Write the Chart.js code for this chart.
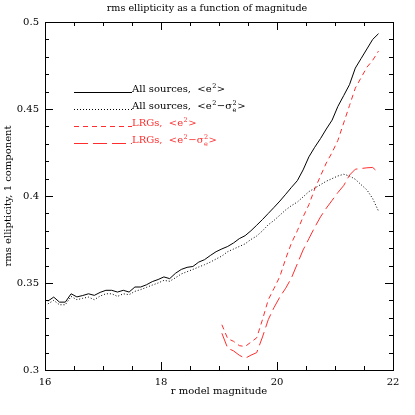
<!DOCTYPE html>
<html>
<head>
<meta charset="utf-8">
<script src="https://cdn.jsdelivr.net/npm/chart.js@4"></script>
<style>
  body { margin: 0; background: #fff; }
</style>
</head>
<body>
<canvas id="myChart" width="415" height="415"></canvas>
<script>
// magnitude bins (bin centres)
let mags = [16.05, 16.15, 16.25, 16.35, 16.45, 16.55, 16.65, 16.75, 16.85, 16.95,
            17.05, 17.15, 17.25, 17.35, 17.45, 17.55, 17.65, 17.75, 17.85, 17.95,
            18.05, 18.15, 18.25, 18.35, 18.45, 18.55, 18.65, 18.75, 18.85, 18.95,
            19.05, 19.15, 19.25, 19.35, 19.45, 19.55, 19.65, 19.75, 19.85, 19.95,
            20.05, 20.15, 20.25, 20.35, 20.45, 20.55, 20.65, 20.75, 20.85, 20.95,
            21.05, 21.15, 21.25, 21.35, 21.45, 21.55, 21.65, 21.75];

// all sources, <e^2>
let allE2 = [0.3396, 0.3419, 0.3390, 0.3390, 0.3438, 0.3420, 0.3428, 0.3438, 0.3429, 0.3446,
             0.3458, 0.3458, 0.3448, 0.3458, 0.3448, 0.3477, 0.3477, 0.3490, 0.3508, 0.3520,
             0.3535, 0.3525, 0.3556, 0.3578, 0.3590, 0.3595, 0.3620, 0.3634, 0.3658, 0.3680,
             0.3696, 0.3710, 0.3730, 0.3755, 0.3772, 0.3800, 0.3832, 0.3865, 0.3900, 0.3935,
             0.3971, 0.4010, 0.4050, 0.4088, 0.4150, 0.4225, 0.4280, 0.4330, 0.4385, 0.4436,
             0.4515, 0.4577, 0.4640, 0.4735, 0.4790, 0.4845, 0.4900, 0.4933];

// all sources, <e^2 - sigma_e^2>
let allE2corr = [0.3380, 0.3400, 0.3375, 0.3375, 0.3423, 0.3404, 0.3412, 0.3419, 0.3404, 0.3425,
                 0.3438, 0.3438, 0.3423, 0.3438, 0.3433, 0.3452, 0.3462, 0.3475, 0.3488, 0.3500,
                 0.3515, 0.3510, 0.3530, 0.3552, 0.3565, 0.3578, 0.3592, 0.3605, 0.3620, 0.3638,
                 0.3655, 0.3680, 0.3695, 0.3710, 0.3725, 0.3750, 0.3770, 0.3800, 0.3835, 0.3860,
                 0.3890, 0.3920, 0.3945, 0.3965, 0.3995, 0.4025, 0.4045, 0.4065, 0.4085, 0.4100,
                 0.4115, 0.4125, 0.4115, 0.4096, 0.4065, 0.4035, 0.3985, 0.3913];

// LRG bins start at 19.05
let lrgMags = [19.05, 19.15, 19.25, 19.35, 19.45, 19.55, 19.65, 19.75, 19.85, 19.95,
               20.05, 20.15, 20.25, 20.35, 20.45, 20.55, 20.65, 20.75, 20.85, 20.95,
               21.05, 21.15, 21.25, 21.35, 21.45, 21.55, 21.65, 21.75];

let lrgE2 = [0.3260, 0.3180, 0.3165, 0.3140, 0.3135, 0.3160, 0.3185, 0.3290, 0.3404, 0.3470,
             0.3538, 0.3640, 0.3730, 0.3800, 0.3880, 0.3950, 0.4040, 0.4115, 0.4190, 0.4250,
             0.4320, 0.4420, 0.4520, 0.4620, 0.4680, 0.4740, 0.4780, 0.4833];

let lrgE2corr = [0.3211, 0.3125, 0.3110, 0.3085, 0.3067, 0.3085, 0.3100, 0.3190, 0.3290, 0.3360,
                 0.3420, 0.3470, 0.3530, 0.3610, 0.3690, 0.3755, 0.3820, 0.3880, 0.3930, 0.3975,
                 0.4020, 0.4060, 0.4120, 0.4154, 0.4158, 0.4162, 0.4164, 0.4134];

let red = 'rgb(255, 45, 45)';
let serif = '"DejaVu Serif", serif';

function pts(xs, ys) {
    return xs.map(function(x, i) { return { x: x, y: ys[i] }; });
}

// draw text with super/subscripts; parts: [text, kind]
function drawMath(ctx, parts, x, y, size) {
    parts.forEach(function(p) {
        let t = p[0], kind = p[1];
        if (kind === 'n') {
            ctx.font = size + 'px ' + serif;
            ctx.fillText(t, x, y);
            x += ctx.measureText(t).width;
        } else if (kind === 'sup') {
            ctx.font = (size * 0.65) + 'px ' + serif;
            ctx.fillText(t, x + 0.5, y - size * 0.42);
            x += ctx.measureText(t).width + 1;
        } else if (kind === 'supsub') {
            ctx.font = (size * 0.65) + 'px ' + serif;
            ctx.fillText(t[0], x + 0.5, y - size * 0.42);
            ctx.fillText(t[1], x + 0.5, y + size * 0.3);
            x += Math.max(ctx.measureText(t[0]).width, ctx.measureText(t[1]).width) + 1;
        }
    });
}

let legendRows = [
    { dash: [], color: '#000', parts: [['All sources,  <e', 'n'], ['2', 'sup'], ['>', 'n']] },
    { dash: [1, 2], color: '#000', parts: [['All sources,  <e', 'n'], ['2', 'sup'], ['\u2212\u03c3', 'n'], [['2', 'e'], 'supsub'], ['>', 'n']] },
    { dash: [5, 4], color: red, parts: [['LRGs,  <e', 'n'], ['2', 'sup'], ['>', 'n']] },
    { dash: [14, 5], color: red, parts: [['LRGs,  <e', 'n'], ['2', 'sup'], ['\u2212\u03c3', 'n'], [['2', 'e'], 'supsub'], ['>', 'n']] }
];

let decor = {
    id: 'decor',
    afterDraw: function(chart) {
        let ctx = chart.ctx;
        let xs = chart.scales.x, ys = chart.scales.y;
        let a = chart.chartArea;
        ctx.save();
        ctx.strokeStyle = '#000';
        ctx.lineWidth = 1;
        ctx.setLineDash([]);
        ctx.strokeRect(Math.round(a.left) + 0.5, Math.round(a.top) + 0.5,
                       Math.round(a.right - a.left), Math.round(a.bottom - a.top));

        // inward ticks on all four sides
        ctx.beginPath();
        for (let i = 0; i <= 12; i++) {
            let v = 16 + i * 0.5;
            let p = Math.round(xs.getPixelForValue(v)) + 0.5;
            let len = (i % 4 === 0) ? 8 : 4;
            ctx.moveTo(p, a.bottom); ctx.lineTo(p, a.bottom - len);
            ctx.moveTo(p, a.top); ctx.lineTo(p, a.top + len);
        }
        for (let i = 0; i <= 20; i++) {
            let v = 0.3 + i * 0.01;
            let p = Math.round(ys.getPixelForValue(v)) + 0.5;
            let len = (i % 5 === 0) ? 8 : 4;
            ctx.moveTo(a.left, p); ctx.lineTo(a.left + len, p);
            ctx.moveTo(a.right, p); ctx.lineTo(a.right - len, p);
        }
        ctx.stroke();

        // titles
        ctx.fillStyle = '#000';
        ctx.font = '9.6px ' + serif;
        ctx.textAlign = 'center';
        ctx.textBaseline = 'middle';
        ctx.fillText('rms ellipticity as a function of magnitude', 207, 8);
        ctx.font = '10px ' + serif;
        ctx.fillText('r model magnitude', (a.left + a.right) / 2, 391);
        ctx.save();
        ctx.translate(8, (a.top + a.bottom) / 2);
        ctx.rotate(-Math.PI / 2);
        ctx.fillText('rms ellipticity, 1 component', 0, 0);
        ctx.restore();

        // legend
        ctx.textAlign = 'left';
        ctx.textBaseline = 'alphabetic';
        legendRows.forEach(function(row, i) {
            let y = 92 + i * 17;
            ctx.strokeStyle = row.color;
            ctx.setLineDash(row.dash);
            ctx.beginPath();
            ctx.moveTo(74, y + 0.5);
            ctx.lineTo(132, y + 0.5);
            ctx.stroke();
            ctx.fillStyle = row.color;
            drawMath(ctx, row.parts, 132, y, 10);
        });
        ctx.restore();
    }
};

document.addEventListener("DOMContentLoaded", function() {
    let ctx = document.getElementById('myChart').getContext('2d');
    let myChart = new Chart(ctx, {
        type: 'line',
        data: {
            datasets: [
                { data: pts(mags, allE2), borderColor: '#000', borderWidth: 1 },
                { data: pts(mags, allE2corr), borderColor: '#000', borderWidth: 1, borderDash: [1, 2] },
                { data: pts(lrgMags, lrgE2), borderColor: red, borderWidth: 1, borderDash: [5, 4] },
                { data: pts(lrgMags, lrgE2corr), borderColor: red, borderWidth: 1, borderDash: [14, 5] }
            ]
        },
        options: {
            responsive: false,
            animation: false,
            layout: { padding: { left: 0, right: 22, top: 22, bottom: 0 } },
            elements: { point: { radius: 0 }, line: { tension: 0 } },
            plugins: { legend: { display: false }, tooltip: { enabled: false } },
            scales: {
                x: {
                    type: 'linear', min: 16, max: 22,
                    grid: { display: false }, border: { display: false },
                    ticks: { stepSize: 2, color: '#000', padding: -2, maxRotation: 0,
                             font: { family: serif, size: 10 } },
                    afterFit: function(s) { s.height = 45; }
                },
                y: {
                    min: 0.3, max: 0.5,
                    grid: { display: false }, border: { display: false },
                    ticks: { stepSize: 0.05, color: '#000', padding: -2,
                             font: { family: serif, size: 10 },
                             callback: function(v) { return String(+v.toFixed(2)); } },
                    afterFit: function(s) { s.width = 45; }
                }
            }
        },
        plugins: [decor]
    });
});
</script>
</body>
</html>
